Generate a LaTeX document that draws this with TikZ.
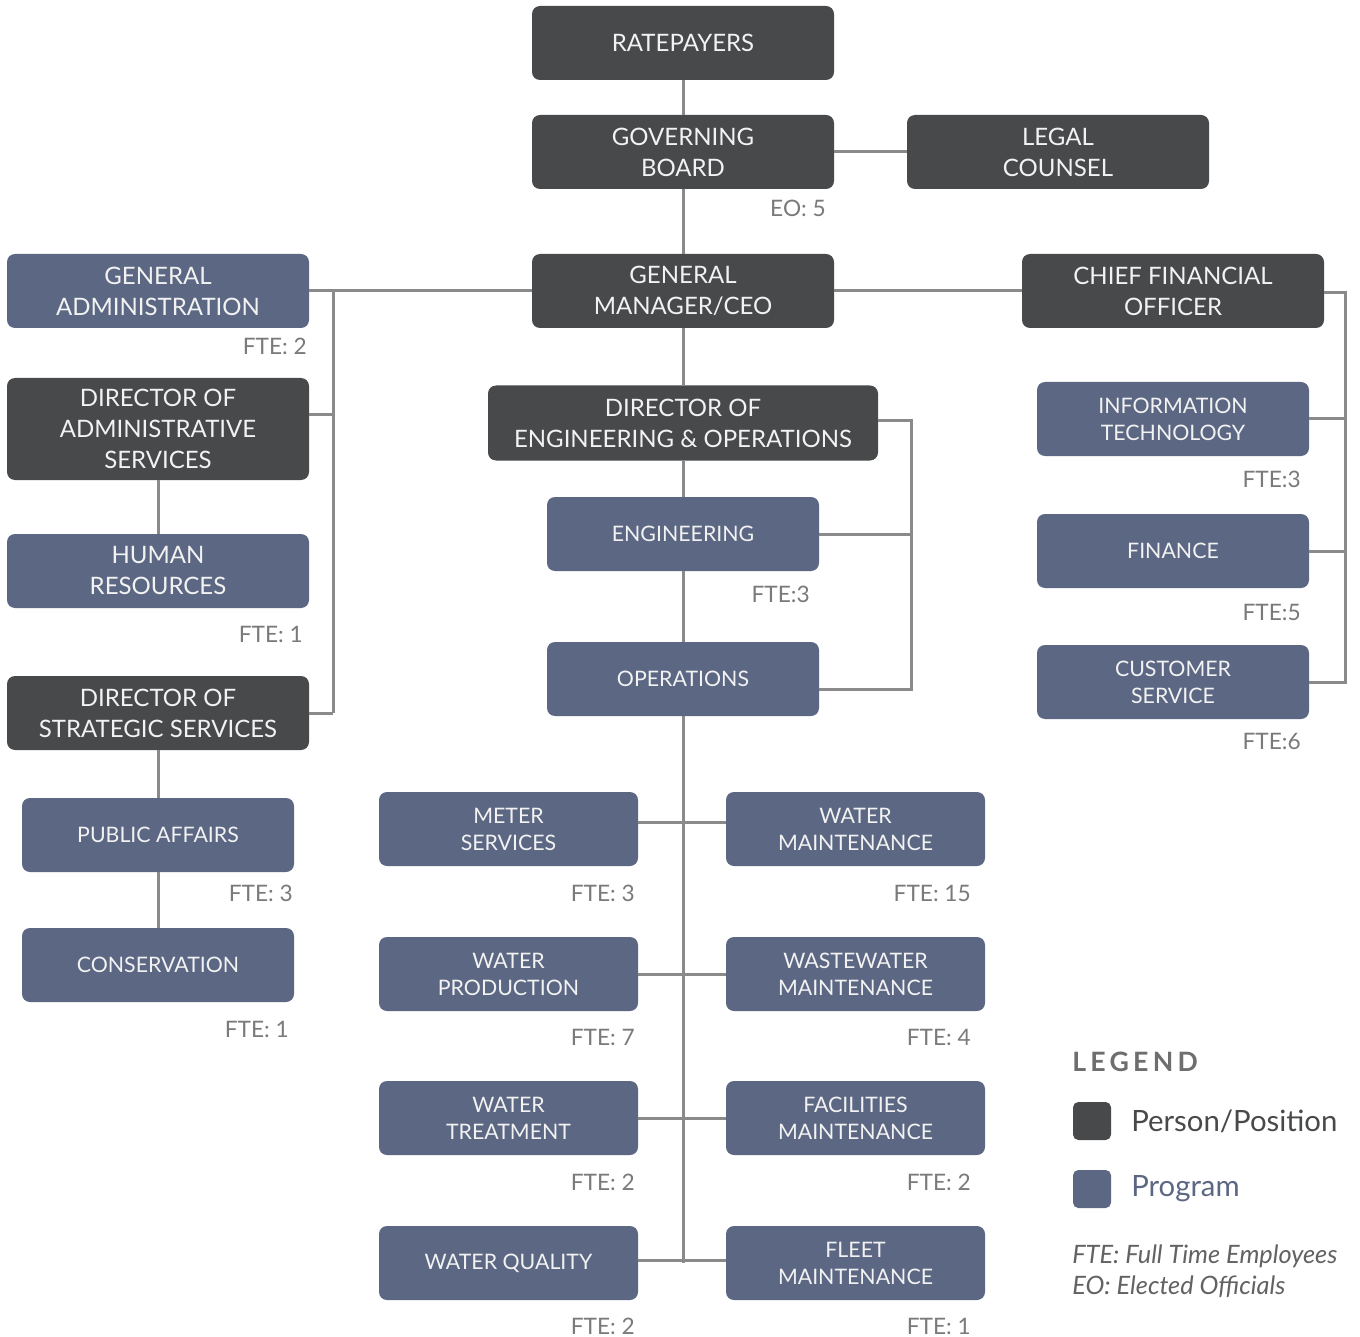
\documentclass[tikz,border=0pt]{standalone}
\usepackage{fontspec}
\setmainfont{Lato}
\newfontfamily\legfont[LetterSpace=16]{Lato}
\definecolor{dark}{HTML}{48494B}
\definecolor{prog}{HTML}{5C6783}
\definecolor{conn}{HTML}{8A8A8A}
\definecolor{ftegray}{HTML}{7A7A7A}
\definecolor{boxtext}{HTML}{F2F2F2}
\begin{document}
\begin{tikzpicture}[x=0.75pt,y=-0.75pt,
  box/.style={rectangle, rounded corners=6pt, inner sep=0pt, align=center, text=boxtext},
  person/.style={box, fill=dark},
  program/.style={box, fill=prog},
  bw/.style={minimum width=226.5pt, minimum height=55.5pt, font=\fontsize{18}{23.25}\selectfont},
  nw/.style={minimum width=204pt, minimum height=55.5pt, font=\fontsize{16}{20.25}\selectfont},
  gw/.style={minimum width=194.25pt, minimum height=55.5pt, font=\fontsize{16}{20.25}\selectfont},
  link/.style={draw=conn, line width=2.25pt},
  fte/.style={anchor=east, text=ftegray, inner sep=0pt, font=\fontsize{17}{20}\selectfont}]
\useasboundingbox (0,0) rectangle (1360,1337);
\fill[white] (0,0) rectangle (1360,1337);

% helper coordinates for bracket lines
\coordinate (lbx) at (333,0);
\coordinate (ebx) at (911,0);
\coordinate (rbx) at (1345,0);

% nodes
\node[person,bw] (rate) at (683,43) {RATEPAYERS};
\node[person,bw] (gov) at (683,152) {GOVERNING\\BOARD};
\node[person,bw] (legal) at (1058,152) {LEGAL\\COUNSEL};
\node[person,bw] (gm) at (683,291) {GENERAL\\MANAGER/CEO};
\node[program,bw] (ga) at (158,291) {GENERAL\\ADMINISTRATION};
\node[person,bw] (cfo) at (1173,291) {CHIEF FINANCIAL\\OFFICER};
\node[person,bw,minimum height=76.5pt] (das) at (158,429) {DIRECTOR OF\\ADMINISTRATIVE\\SERVICES};
\node[program,bw] (hr) at (158,571) {HUMAN\\RESOURCES};
\node[person,bw] (dss) at (158,713) {DIRECTOR OF\\STRATEGIC SERVICES};
\node[program,nw] (pa) at (158,835) {PUBLIC AFFAIRS};
\node[program,nw] (cons) at (158,965) {CONSERVATION};
\node[person,bw,minimum width=292.5pt,minimum height=56.25pt] (deo) at (683,423) {DIRECTOR OF\\ENGINEERING \& OPERATIONS};
\node[program,nw] (eng) at (683,534) {ENGINEERING};
\node[program,nw] (ops) at (683,679) {OPERATIONS};
\node[program,nw] (it) at (1173,419) {INFORMATION\\TECHNOLOGY};
\node[program,nw] (fin) at (1173,551) {FINANCE};
\node[program,nw] (cs) at (1173,682) {CUSTOMER\\SERVICE};

\node[program,gw] (ms) at (508.5,829) {METER\\SERVICES};
\node[program,gw] (wm) at (855.5,829) {WATER\\MAINTENANCE};
\node[program,gw] (wp) at (508.5,974) {WATER\\PRODUCTION};
\node[program,gw] (wwm) at (855.5,974) {WASTEWATER\\MAINTENANCE};
\node[program,gw] (wt) at (508.5,1118) {WATER\\TREATMENT};
\node[program,gw] (fm) at (855.5,1118) {FACILITIES\\MAINTENANCE};
\node[program,gw] (wq) at (508.5,1263) {WATER QUALITY};
\node[program,gw] (flm) at (855.5,1263) {FLEET\\MAINTENANCE};

% labels
\node[fte] (eo) at (826,208) {EO: 5};
\node[fte] (fga) at (307,346) {FTE: 2};
\node[fte] (fhr) at (303,634) {FTE: 1};
\node[fte] (fpa) at (293,893) {FTE: 3};
\node[fte] (fcons) at (289,1029) {FTE: 1};
\node[fte] (feng) at (810,594) {FTE:3};
\node[fte] (fit) at (1301,479) {FTE:3};
\node[fte] (ffin) at (1301,612) {FTE:5};
\node[fte] (fcs) at (1301,741) {FTE:6};
\node[fte] (fms) at (635,893) {FTE: 3};
\node[fte] (fwm) at (971,893) {FTE: 15};
\node[fte] (fwp) at (635,1037) {FTE: 7};
\node[fte] (fwwm) at (971,1037) {FTE: 4};
\node[fte] (fwt) at (635,1182) {FTE: 2};
\node[fte] (ffm) at (971,1182) {FTE: 2};
\node[fte] (fwq) at (635,1326) {FTE: 2};
\node[fte] (fflm) at (971,1326) {FTE: 1};

% connectors
\draw[link] (rate) -- (gov);
\draw[link] (gov) -- (legal);
\draw[link] (gov) -- (gm);
\draw[link] (ga.east) -- (gm.west);
\draw[link] (gm) -- (cfo);
\draw[link] (gm) -- (deo);
\draw[link] (deo) -- (eng);
\draw[link] (eng) -- (ops);
\draw[link] (ops) -- (ops |- wq);
% left bracket
\draw[link] (ga.east -| lbx) -- (dss.east -| lbx);
\draw[link] ([yshift=10.5pt]das.east) -- ([yshift=10.5pt]das.east -| lbx);
\draw[link] (dss.east) -- (dss.east -| lbx);
\draw[link] (das) -- (hr);
\draw[link] (dss) -- (pa);
\draw[link] (pa) -- (cons);
% engineering bracket
\draw[link] ([yshift=1.5pt]deo.east) -- ([yshift=1.5pt]deo.east -| ebx) -- ([yshift=-7.5pt]ops.east -| ebx) -- ([yshift=-7.5pt]ops.east);
\draw[link] (eng.east) -- (eng.east -| ebx);
% right bracket
\draw[link] ([yshift=-1.5pt]cfo.east) -- ([yshift=-1.5pt]cfo.east -| rbx) -- (cs.east -| rbx) -- (cs.east);
\draw[link] (it.east) -- (it.east -| rbx);
\draw[link] (fin.east) -- (fin.east -| rbx);
% grid
\draw[link] ([yshift=5pt]ms.east) -- ([yshift=5pt]wm.west);
\draw[link] (wp.east) -- (wwm.west);
\draw[link] (wt.east) -- (fm.west);
\draw[link] ([yshift=2pt]wq.east) -- ([yshift=2pt]flm.west);

% legend
\node[anchor=west, inner sep=0pt, text=ftegray!90!black, font=\legfont\bfseries\fontsize{20}{24}\selectfont] (leg) at (1072,1062) {LEGEND};
\node[person, rounded corners=4pt, minimum size=28.5pt] (sq1) at (1092,1121) {};
\node[program, rounded corners=4pt, minimum size=28.5pt] (sq2) at (1092,1189) {};
\node[anchor=west, inner sep=0pt, text=dark, font=\fontsize{22}{26}\selectfont] (lp) at (1131,1121) {Person/Position};
\node[anchor=west, inner sep=0pt, text=prog, font=\fontsize{22}{26}\selectfont] (lg) at (1131,1189) {Program};
\node[anchor=west, inner sep=0pt, text=ftegray!80!black, font=\itshape\fontsize{19}{23}\selectfont] (n1) at (1072,1256) {FTE: Full Time Employees};
\node[anchor=west, inner sep=0pt, text=ftegray!80!black, font=\itshape\fontsize{19}{23}\selectfont] (n2) at (1072,1287) {EO: Elected Officials};
\end{tikzpicture}
\end{document}
